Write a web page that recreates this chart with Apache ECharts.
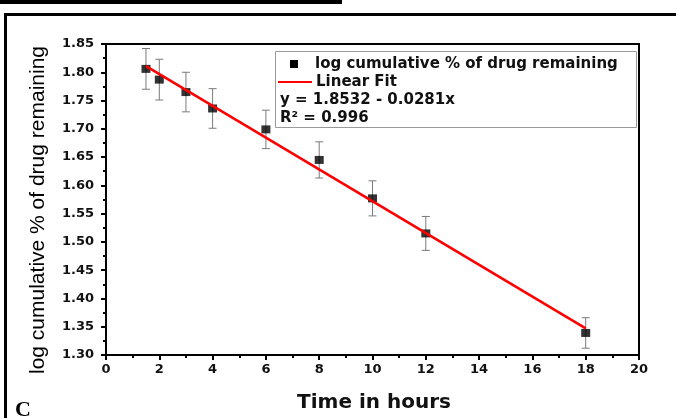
<!DOCTYPE html>
<html>
<head>
<meta charset="utf-8">
<script src="https://cdn.jsdelivr.net/npm/echarts@6/dist/echarts.min.js"></script>
<style>
  html, body { margin: 0; padding: 0; background: #fff; }
  #chart { width: 676px; height: 418px; }
</style>
</head>
<body>
<div id="chart"></div>
<script>
// Time points (hours) and log cumulative % of drug remaining
const timeHours = [1.5, 2, 3, 4, 6, 8, 10, 12, 18];
const logRemaining = [1.806, 1.787, 1.765, 1.736, 1.699, 1.645, 1.577, 1.515, 1.339];
const errorSize = [0.036, 0.036, 0.035, 0.035, 0.034, 0.032, 0.031, 0.030, 0.027];

// Linear fit segment endpoints: y = 1.8532 - 0.0281x
const fitX = [1.5, 18];
const fitY = [1.811, 1.347];

// Legend texts
const seriesName = 'log cumulative % of drug remaining';
const fitName = 'Linear Fit';
const fitEquation = 'y = 1.8532 - 0.0281x';
const fitR2 = 'R\u00B2 = 0.996';

// Axis ranges
const xRange = { min: 0, max: 20, interval: 2 };
const yRange = { min: 1.30, max: 1.85, interval: 0.05 };

const tickFont = 'DejaVu Sans';
const chart = echarts.init(document.getElementById('chart'), null, { renderer: 'canvas' });

const errData = timeHours.map((t, i) => [t, logRemaining[i], errorSize[i]]);
const pointData = timeHours.map((t, i) => [t, logRemaining[i]]);
const fitData = fitX.map((x, i) => [x, fitY[i]]);

chart.setOption({
  animation: false,
  backgroundColor: '#fff',
  grid: {
    left: 106, right: 37, top: 44, bottom: 63,
    show: true, borderColor: '#000', borderWidth: 2, backgroundColor: '#fff'
  },
  xAxis: {
    type: 'value',
    min: xRange.min, max: xRange.max, interval: xRange.interval,
    axisLine: { show: true, lineStyle: { color: '#000', width: 2 } },
    axisTick: { show: true, inside: false, length: 5, lineStyle: { color: '#000', width: 2 } },
    minorTick: { show: true, splitNumber: 2, length: 3, lineStyle: { color: '#000', width: 2 } },
    splitLine: { show: false },
    axisLabel: { color: '#111', fontFamily: tickFont, fontWeight: 'bold', fontSize: 13, margin: 8 }
  },
  yAxis: {
    type: 'value',
    min: yRange.min, max: yRange.max, interval: yRange.interval,
    axisLine: { show: true, lineStyle: { color: '#000', width: 2 } },
    axisTick: { show: true, inside: false, length: 5, lineStyle: { color: '#000', width: 2 } },
    minorTick: { show: true, splitNumber: 2, length: 3, lineStyle: { color: '#000', width: 2 } },
    splitLine: { show: false },
    axisLabel: {
      color: '#111', fontFamily: tickFont, fontWeight: 'bold', fontSize: 13, margin: 12,
      formatter: v => v.toFixed(2)
    }
  },
  series: [
    {
      type: 'custom',
      name: 'error',
      data: errData,
      z: 2,
      renderItem: function (params, api) {
        const x = api.value(0), y = api.value(1), e = api.value(2);
        const top = api.coord([x, y + e]);
        const bot = api.coord([x, y - e]);
        const hw = 4;
        const st = { stroke: '#7a7a7a', lineWidth: 1 };
        return {
          type: 'group',
          children: [
            { type: 'line', shape: { x1: top[0], y1: top[1], x2: bot[0], y2: bot[1] }, style: st },
            { type: 'line', shape: { x1: top[0] - hw, y1: top[1], x2: top[0] + hw, y2: top[1] }, style: st },
            { type: 'line', shape: { x1: bot[0] - hw, y1: bot[1], x2: bot[0] + hw, y2: bot[1] }, style: st }
          ]
        };
      }
    },
    {
      type: 'scatter',
      name: seriesName,
      data: pointData,
      symbol: 'rect',
      symbolSize: [9, 8],
      itemStyle: { color: '#000' },
      z: 3
    },
    {
      type: 'line',
      name: fitName,
      data: fitData,
      symbol: 'none',
      lineStyle: { color: '#ff0000', width: 2.6 },
      z: 4
    }
  ],
  graphic: [
    // page decoration lines
    { type: 'rect', shape: { x: 0, y: 0, width: 342, height: 4 }, style: { fill: '#000' } },
    { type: 'rect', shape: { x: 4, y: 13, width: 672, height: 3 }, style: { fill: '#000' } },
    { type: 'rect', shape: { x: 4, y: 13, width: 3, height: 405 }, style: { fill: '#000' } },
    // panel letter
    { type: 'text', x: 15, y: 410, style: { text: 'C', font: 'bold 22px "Liberation Serif"', fill: '#000', textVerticalAlign: 'middle' } },
    // axis titles
    { type: 'text', x: 38, y: 210, rotation: Math.PI / 2,
      style: { text: seriesName, font: '21px "Liberation Sans"', fill: '#000', textAlign: 'center', textVerticalAlign: 'middle' } },
    { type: 'text', x: 374, y: 403,
      style: { text: 'Time in hours', font: 'bold 20px "DejaVu Sans"', fill: '#111', textAlign: 'center', textVerticalAlign: 'middle' } },
    // legend box
    { type: 'rect', shape: { x: 275.5, y: 51.5, width: 361, height: 76 }, style: { fill: '#fff', stroke: '#999', lineWidth: 1 }, z: 10 },
    { type: 'rect', shape: { x: 290, y: 60, width: 8, height: 8 }, style: { fill: '#000' }, z: 11 },
    { type: 'text', x: 315, y: 64, z: 11,
      style: { text: seriesName, font: 'bold 15px "DejaVu Sans"', fill: '#111', textVerticalAlign: 'middle' } },
    { type: 'line', shape: { x1: 278, y1: 82, x2: 312, y2: 82 }, style: { stroke: '#ff0000', lineWidth: 2 }, z: 11 },
    { type: 'text', x: 316, y: 82, z: 11,
      style: { text: fitName, font: 'bold 15px "DejaVu Sans"', fill: '#111', textVerticalAlign: 'middle' } },
    { type: 'text', x: 280, y: 100, z: 11,
      style: { text: fitEquation, font: 'bold 15px "DejaVu Sans"', fill: '#111', textVerticalAlign: 'middle' } },
    { type: 'text', x: 280, y: 118, z: 11,
      style: { text: fitR2, font: 'bold 15px "DejaVu Sans"', fill: '#111', textVerticalAlign: 'middle' } }
  ]
});
</script>
</body>
</html>
